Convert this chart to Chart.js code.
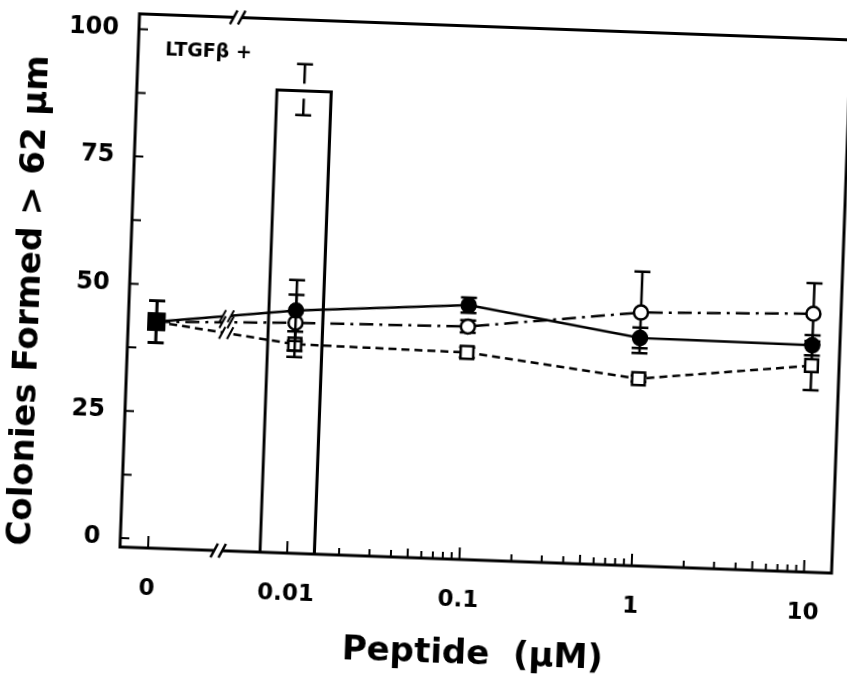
<!DOCTYPE html>
<html>
<head>
<meta charset="utf-8">
<script src="https://cdn.jsdelivr.net/npm/chart.js@4.4.0/dist/chart.umd.min.js"></script>
<style>
  html, body { margin: 0; padding: 0; background: #fff; overflow: hidden; width: 847px; height: 681px; }
  /* the scanned figure sits slightly askew */
  #chart { position: absolute; left: 0; top: 0; transform-origin: 120px 547px; transform: rotate(2.1deg); }
</style>
</head>
<body>
<canvas id="chart" width="847" height="681"></canvas>
<script>
// peptide concentration (uM); 0 = LTGFb alone
const concentrations = [0, 0.01, 0.1, 1, 10];
const tickLabels = ['0', '0.01', '0.1', '1', '10'];
const yTickValues = [0, 25, 50, 75, 100];

// colonies formed > 62 um, mean and error
const filledCircle = [42.7, 45.9, 48.2, 43.0, 42.8];
const filledCircleErr = [4.1, 6.0, 1.5, 2.0, 2.0];
const openCircle = [42.7, 43.5, 44.0, 48.0, 49.0];
const openCircleErr = [4.1, 5.5, 1.2, 8.0, 6.0];
const openSquare = [42.7, 39.3, 38.9, 35.0, 38.8];
const openSquareErr = [4.1, 2.5, 1.0, 0.6, 4.8];

// open bar at 0.01
const barConc = [0.01];
const barValue = [89.3];
const barErr = [5.0];

// broken log axis: where "0" sits and where the break is (in log10 units)
const ZERO_POS = -2.807;
const BREAK_POS = -2.4;
const X_MIN = -2.97, X_MAX = 1.16;
const Y_MIN = -1.76, Y_MAX = 103;

const FONT = 'DejaVu Sans';
const xPos = c => c === 0 ? ZERO_POS : Math.log10(c);

function lineSet(label, values, errs, style, dash, filled) {
    return {
        type: 'line',
        label,
        data: concentrations.map((c, i) => ({ x: xPos(c), y: values[i] })),
        errors: errs,
        borderColor: '#000',
        borderWidth: 2.5,
        borderDash: dash,
        tension: 0,
        pointStyle: ctx => ctx.dataIndex === 0 ? 'rect' : style,
        pointRadius: ctx => ctx.dataIndex === 0 ? 11 : (style === 'rect' ? 9 : 7),
        pointBackgroundColor: ctx => (ctx.dataIndex === 0 || filled) ? '#000' : '#fff',
        pointBorderColor: '#000',
        pointBorderWidth: 2.5,
        order: 1
    };
}

// error bars; the bar's own one has a gap around the bar top
function drawErrors(chart, meta, isBar) {
    const ds = chart.data.datasets[meta.index];
    if (!ds.errors) return;
    const ys = chart.scales.y;
    const ctx = chart.ctx;
    ctx.save();
    ctx.strokeStyle = '#000';
    ctx.lineWidth = 2.5;
    ctx.setLineDash([]);
    meta.data.forEach((el, i) => {
        const v = ds.data[i].y, e = ds.errors[i];
        const top = ys.getPixelForValue(v + e);
        const bot = ys.getPixelForValue(v - e);
        const x = el.x, cap = 8;
        ctx.beginPath();
        if (isBar) {
            ctx.moveTo(x, top); ctx.lineTo(x, el.y - 6);
            ctx.moveTo(x, el.y + 9); ctx.lineTo(x, bot);
        } else {
            ctx.moveTo(x, top); ctx.lineTo(x, bot);
        }
        ctx.moveTo(x - cap, top); ctx.lineTo(x + cap, top);
        ctx.moveTo(x - cap, bot); ctx.lineTo(x + cap, bot);
        ctx.stroke();
    });
    ctx.restore();
}

const errorBars = {
    id: 'errorBars',
    beforeDatasetDraw(chart, args) {
        if (args.meta.type === 'line') drawErrors(chart, args.meta, false);
    },
    afterDatasetDraw(chart, args) {
        if (args.meta.type === 'bar') drawErrors(chart, args.meta, true);
    }
};

function slashes(ctx, bx, by, h) {
    ctx.beginPath();
    [-4, 4].forEach(off => {
        ctx.moveTo(bx + off - h * 0.5, by + h);
        ctx.lineTo(bx + off + h * 0.5, by - h);
    });
    ctx.stroke();
}

// frame, axis break and the break marks on the lines
const frameAndBreaks = {
    id: 'frameAndBreaks',
    afterDatasetsDraw(chart) {
        const { ctx, chartArea: a, scales } = chart;
        const bx = scales.x.getPixelForValue(BREAK_POS);
        ctx.save();
        ctx.setLineDash([]);

        // gaps in the lines
        const cuts = [];
        chart.data.datasets.forEach((ds, i) => {
            const meta = chart.getDatasetMeta(i);
            if (meta.type !== 'line') return;
            const p0 = meta.data[0], p1 = meta.data[1];
            const t = (bx - p0.x) / (p1.x - p0.x);
            cuts.push(p0.y + t * (p1.y - p0.y));
        });
        ctx.strokeStyle = '#fff';
        ctx.lineWidth = 6;
        cuts.forEach(by => {
            ctx.beginPath();
            ctx.moveTo(bx - 4, by); ctx.lineTo(bx + 4, by);
            ctx.stroke();
        });
        ctx.strokeStyle = '#000';
        ctx.lineWidth = 2;
        cuts.forEach(by => slashes(ctx, bx, by, 6));

        // frame
        ctx.lineWidth = 3;
        ctx.strokeRect(a.left, a.top, a.right - a.left, a.bottom - a.top);
        ctx.fillStyle = '#fff';
        ctx.fillRect(bx - 4, a.top - 3, 8, 6);
        ctx.fillRect(bx - 4, a.bottom - 3, 8, 6);
        ctx.lineWidth = 2.5;
        slashes(ctx, bx, a.top, 7);
        slashes(ctx, bx, a.bottom, 7);

        // inward tick marks
        ctx.lineWidth = 2;
        ctx.beginPath();
        for (let v = 0; v <= 100; v += 12.5) {
            const y = scales.y.getPixelForValue(v);
            ctx.moveTo(a.left, y); ctx.lineTo(a.left + 9, y);
        }
        const xt = (v, len) => {
            const x = scales.x.getPixelForValue(v);
            ctx.moveTo(x, a.bottom); ctx.lineTo(x, a.bottom - len);
        };
        concentrations.forEach(c => xt(xPos(c), 12));
        [0.01, 0.1, 1].forEach(d => {
            for (let m = 2; m <= 9; m++) xt(Math.log10(d * m), m === 5 ? 9 : 7);
        });
        ctx.stroke();

        // label
        ctx.fillStyle = '#000';
        ctx.font = `bold 19px "${FONT}"`;
        ctx.textBaseline = 'middle';
        ctx.textAlign = 'left';
        ctx.fillText('LTGFβ +', a.left + 27, a.top + 36);
        ctx.restore();
    }
};

new Chart(document.getElementById('chart'), {
    data: {
        datasets: [
            lineSet('filled circles', filledCircle, filledCircleErr, 'circle', [], true),
            lineSet('open circles', openCircle, openCircleErr, 'circle', [14, 6, 3, 6], false),
            lineSet('open squares', openSquare, openSquareErr, 'rect', [8, 5], false),
            {
                type: 'bar',
                label: 'bar',
                data: barConc.map((c, i) => ({ x: xPos(c), y: barValue[i] })),
                errors: barErr,
                base: Y_MIN,
                backgroundColor: 'rgba(0,0,0,0)',
                borderColor: '#000',
                borderWidth: 2.5,
                barThickness: 57,
                order: 10
            }
        ]
    },
    options: {
        responsive: false,
        animation: false,
        devicePixelRatio: 1,
        layout: { padding: { left: 0, top: 12, right: 15, bottom: 0 } },
        plugins: { legend: { display: false }, tooltip: { enabled: false } },
        scales: {
            x: {
                type: 'linear',
                min: X_MIN,
                max: X_MAX,
                offset: false,
                grid: { display: false, drawTicks: false, offset: false },
                border: { display: false },
                afterBuildTicks: s => { s.ticks = concentrations.map(c => ({ value: xPos(c) })); },
                afterFit: s => { s.height = 134; s.paddingLeft = 0; s.paddingRight = 0; },
                ticks: {
                    callback: (v, i) => tickLabels[i],
                    autoSkip: false,
                    maxRotation: 0,
                    padding: 27,
                    color: '#000',
                    font: { family: FONT, size: 23, weight: 'bold' }
                },
                title: {
                    display: true,
                    text: 'Peptide  (μM)',
                    color: '#000',
                    font: { family: FONT, size: 34, weight: 'bold', lineHeight: 1 },
                    padding: { top: 0, bottom: 22 }
                }
            },
            y: {
                min: Y_MIN,
                max: Y_MAX,
                grid: { display: false, drawTicks: false },
                border: { display: false },
                afterBuildTicks: s => { s.ticks = yTickValues.map(v => ({ value: v })); },
                afterFit: s => { s.width = 120; s.paddingTop = 0; s.paddingBottom = 0; },
                ticks: {
                    padding: 20,
                    color: '#000',
                    font: { family: FONT, size: 24, weight: 'bold' }
                },
                title: {
                    display: true,
                    text: 'Colonies Formed > 62 μm\u00a0\u00a0\u00a0\u00a0',
                    color: '#000',
                    font: { family: FONT, size: 34, weight: 'bold', lineHeight: 1 },
                    padding: { top: 4, bottom: 0 }
                }
            }
        }
    },
    plugins: [errorBars, frameAndBreaks]
});
</script>
</body>
</html>
